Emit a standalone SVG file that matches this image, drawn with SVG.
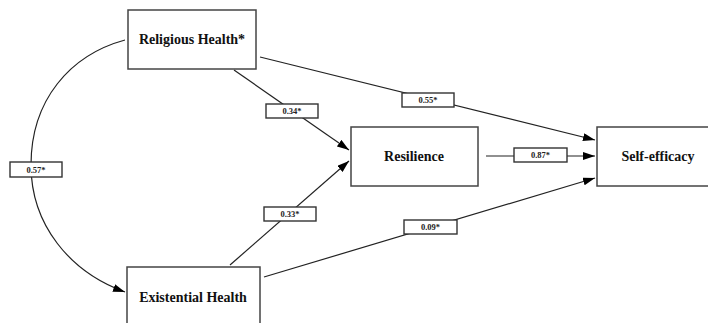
<svg xmlns="http://www.w3.org/2000/svg" width="708" height="323" viewBox="0 0 708 323">
<style>
.node{fill:#fff;stroke:#444;stroke-width:1.5}
.nt{font-family:"Liberation Serif",serif;font-weight:bold;font-size:14px;fill:#111;text-anchor:middle}
.edge{fill:none;stroke:#222;stroke-width:1.2}
.lb{fill:#fff;stroke:#333;stroke-width:1.4}
.lt{font-family:"Liberation Serif",serif;font-weight:bold;font-size:8.5px;fill:#222;text-anchor:middle}
</style>
<defs>
<marker id="ah" viewBox="0 0 12 8" refX="12" refY="4" markerWidth="12" markerHeight="8" markerUnits="userSpaceOnUse" orient="auto">
<path d="M0,0 L12,4 L0,8 z" fill="#000"/>
</marker>
</defs>
<rect width="708" height="323" fill="#fff"/>
<g id="connectors">
<path class="edge" d="M125,40 C70,55 31,100 31,165 C31,225 70,272 125,292" marker-end="url(#ah)"/>
<line class="edge" x1="234" y1="70" x2="349" y2="150" marker-end="url(#ah)"/>
<line class="edge" x1="260" y1="57" x2="595" y2="140" marker-end="url(#ah)"/>
<line class="edge" x1="486" y1="156" x2="595" y2="156" marker-end="url(#ah)"/>
<line class="edge" x1="230" y1="265" x2="349" y2="161" marker-end="url(#ah)"/>
<line class="edge" x1="264" y1="277" x2="595" y2="178" marker-end="url(#ah)"/>
<g id="labels">
<rect class="lb" x="10" y="162" width="52" height="15"/><text class="lt" x="36" y="172.5">0.57*</text>
<rect class="lb" x="266" y="104" width="52" height="14"/><text class="lt" x="292" y="114">0.34*</text>
<rect class="lb" x="402" y="93" width="52" height="14"/><text class="lt" x="428" y="103">0.55*</text>
<rect class="lb" x="514" y="148" width="53" height="14"/><text class="lt" x="540.5" y="158">0.87*</text>
<rect class="lb" x="264" y="207" width="52" height="14"/><text class="lt" x="290" y="217">0.33*</text>
<rect class="lb" x="404" y="220" width="53" height="14"/><text class="lt" x="430.5" y="230">0.09*</text>
</g>
</g>
<g id="religious"><rect class="node" x="128" y="10" width="128" height="59"/><text class="nt" x="192" y="44">Religious Health*</text></g>
<g id="resilience"><rect class="node" x="351" y="127" width="127" height="59"/><text class="nt" x="414" y="161">Resilience</text></g>
<g id="selfefficacy"><rect class="node" x="597" y="127" width="120" height="59"/><text class="nt" x="658" y="161">Self-efficacy</text></g>
<g id="existential"><rect class="node" x="127" y="267" width="133" height="70"/><text class="nt" x="193" y="302">Existential Health</text></g>
</svg>
